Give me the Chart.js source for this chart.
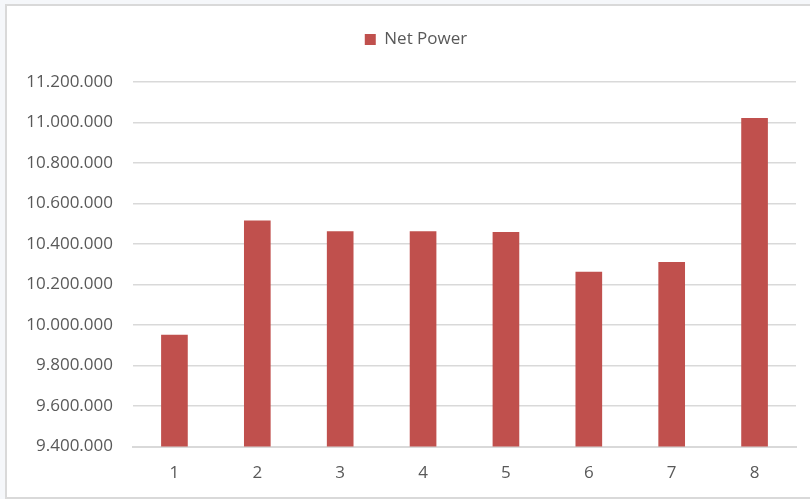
<!DOCTYPE html>
<html>
<head>
<meta charset="utf-8">
<script src="https://cdn.jsdelivr.net/npm/chart.js@4/dist/chart.umd.min.js"></script>
<style>
  html, body { margin: 0; padding: 0; background: #f5f7fa; }
  #frame {
    position: absolute; left: 5px; top: 4px; width: 830px; height: 491px;
    border: 2px solid #d9d9d9; background: #ffffff;
  }
  #wrap { position: absolute; left: 0; top: 0; width: 810px; height: 499px; }
</style>
</head>
<body>
<div id="frame"></div>
<div id="wrap"><canvas id="c" width="810" height="499"></canvas></div>
<script>
// Net power per unit
const categories = ['1', '2', '3', '4', '5', '6', '7', '8'];
const netPower = [9951000, 10515000, 10462000, 10462000, 10458000, 10262000, 10310000, 11021000];
const seriesName = 'Net Power';
const yMin = 9400000;
const yMax = 11200000;
const yStep = 200000;

const textColor = '#595959';
const gridColor = '#d9d9d9';
const barColor = '#c0504d';
const fontFamily = "'Open Sans', 'Liberation Sans', sans-serif";

function withDots(v) {
  return String(Math.round(v)).replace(/\B(?=(\d{3})+(?!\d))/g, '.');
}

// Extra room between the legend and the plot, legend centred a little right
const legendGap = {
  id: 'legendGap',
  beforeInit(chart) {
    const fit = chart.legend.fit;
    chart.legend.fit = function () {
      fit.call(this);
      this.height += 24;
    };
  },
  afterLayout(chart) {
    chart.legend.left += 36;
  }
};

new Chart(document.getElementById('c'), {
  type: 'bar',
  data: {
    labels: categories,
    datasets: [{
      label: seriesName,
      data: netPower,
      backgroundColor: barColor,
      borderWidth: 0,
      barThickness: 26
    }]
  },
  plugins: [legendGap],
  options: {
    responsive: false,
    animation: false,
    devicePixelRatio: 1,
    layout: { padding: { left: 0, right: 14, top: 11, bottom: 0 } },
    plugins: {
      legend: {
        position: 'top',
        labels: {
          color: textColor,
          font: { family: fontFamily, size: 17 },
          boxWidth: 11,
          boxHeight: 11,
          padding: 20
        }
      },
      tooltip: { enabled: false }
    },
    scales: {
      x: {
        grid: { display: false, drawTicks: false },
        border: { display: true, color: gridColor, width: 2 },
        ticks: {
          color: textColor,
          font: { family: fontFamily, size: 17 },
          padding: 16
        }
      },
      y: {
        min: yMin,
        max: yMax,
        afterFit: (scale) => { scale.width = 133; },
        grid: { color: gridColor, lineWidth: 1.5, drawTicks: false },
        border: { display: false },
        ticks: {
          stepSize: yStep,
          color: textColor,
          font: { family: fontFamily, size: 17 },
          padding: 20,
          callback: (v) => withDots(v)
        }
      }
    }
  }
});
</script>
</body>
</html>
